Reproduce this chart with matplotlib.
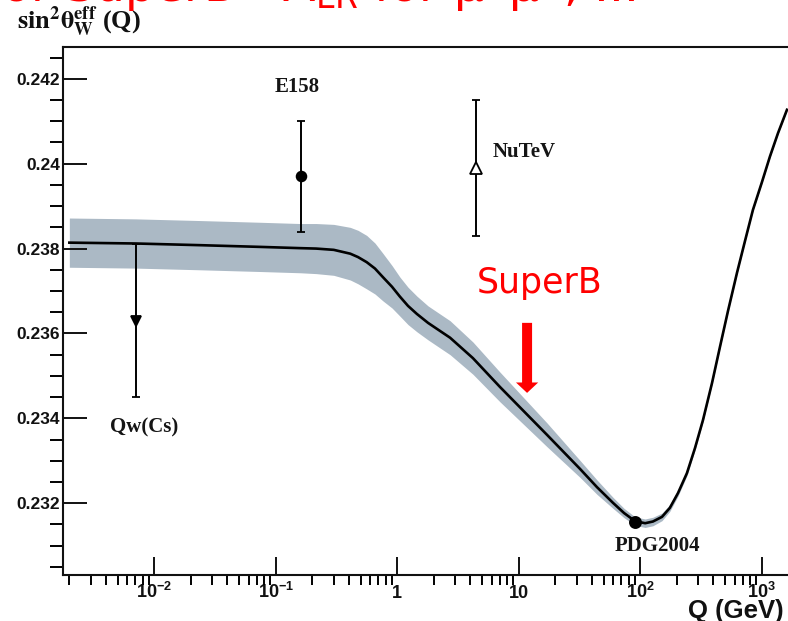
import matplotlib.pyplot as plt
from matplotlib.ticker import LogLocator, MultipleLocator, NullFormatter

plt.rcParams['font.family'] = 'Liberation Sans'
plt.rcParams['mathtext.fontset'] = 'custom'
plt.rcParams['mathtext.rm'] = 'Liberation Sans:bold'
plt.rcParams['mathtext.it'] = 'Liberation Sans:bold'
plt.rcParams['mathtext.bf'] = 'Liberation Sans:bold'

# running weak mixing angle (SM prediction) and its uncertainty band
q_curve = [0.002, 0.007, 0.024, 0.074, 0.16, 0.215, 0.30, 0.41, 0.475,
           0.56, 0.655, 0.76, 0.905, 1.05, 1.225, 1.45, 1.79, 2.246, 2.72,
           4.19, 7.0, 17.1, 31.9, 44.0, 59.6, 73.5, 90.4, 109.6, 127, 150.9,
           175, 204.3, 242, 281.9, 328, 389.1, 453, 526.9, 625, 727.4, 845,
           1003.7, 1167, 1359.4, 1611]
s_curve = [0.23814, 0.23812, 0.23808, 0.23804, 0.23801, 0.23800, 0.23797,
           0.23788, 0.23780, 0.23768, 0.23753, 0.23733, 0.23710, 0.23687,
           0.23665, 0.23646, 0.23625, 0.23606, 0.23590, 0.23542, 0.23474,
           0.23361, 0.23281, 0.23238, 0.23201, 0.23177, 0.23158, 0.23153,
           0.23157, 0.23168, 0.23189, 0.23224, 0.23271, 0.23330, 0.23396,
           0.23483, 0.23569, 0.23653, 0.23743, 0.23818, 0.23891, 0.23957,
           0.24017, 0.24072, 0.24127]
s_err = [0.00058, 0.00058, 0.00058, 0.00058, 0.00058, 0.00059, 0.00060,
         0.00062, 0.00063, 0.00063, 0.00060, 0.00056, 0.00050, 0.00046,
         0.00044, 0.00042, 0.00040, 0.00040, 0.00040, 0.00038, 0.00035,
         0.00028, 0.00020, 0.00017, 0.00013, 0.00011, 0.00010, 0.00010,
         0.00010, 0.00009, 0.00008, 0.00007, 0.00006, 0.00005, 0.00004,
         0.00003, 0.00003, 0.00002, 0.00002, 0.00002, 0.00002, 0.00002,
         0.00002, 0.00002, 0.00002]

# measurements
meas_names = ['Qw(Cs)', 'E158', 'NuTeV', 'PDG2004']
meas_q = [0.00703, 0.161, 4.47, 91.19]
meas_s = [0.2363, 0.2397, 0.2399, 0.23155]
meas_err = [0.0018, 0.0013, 0.0016, 0.0]
meas_marker = ['v', 'o', '^', 'o']

band_color = '#abb9c5'

fig = plt.figure(figsize=(7.88, 6.21), dpi=100)
ax = fig.add_axes([63 / 788, 1 - 575 / 621, 725 / 788, 528 / 621])

lo = [s - e for s, e in zip(s_curve, s_err)]
hi = [s + e for s, e in zip(s_curve, s_err)]
ax.fill_between(q_curve, lo, hi, color=band_color, lw=0, zorder=1)
ax.plot(q_curve, s_curve, color='black', lw=1.9, zorder=2,
        solid_joinstyle='round')

for name, q, s, e, m in zip(meas_names, meas_q, meas_s, meas_err, meas_marker):
    face = 'white' if name == 'NuTeV' else 'black'
    ms = 8 if name in ('NuTeV', 'PDG2004') else 7
    ax.errorbar(q, s, yerr=e if e > 0 else None, fmt=m, color='black',
                mfc=face, mec='black', ms=ms, mew=1.3, elinewidth=1.4,
                capsize=3, capthick=1.4, zorder=4)

# point labels
lab_kw = dict(family='Liberation Serif', weight='bold', fontsize=15,
              va='baseline', color='#151515')
ax.text(0.149, 0.24169, 'E158', ha='center', **lab_kw)
ax.text(6.13, 0.24016, 'NuTeV', ha='left', **lab_kw)
ax.text(0.00432, 0.23366, 'Qw(Cs)', ha='left', **lab_kw)
ax.text(137, 0.23088, 'PDG2004', ha='center', **lab_kw)

# SuperB energy marker
ax.text(14.95, 0.23695, 'SuperB', color='red', fontsize=25,
        family='DejaVu Sans', ha='center', va='baseline')
ax.annotate('', xy=(11.7, 0.2346), xytext=(11.7, 0.23625),
            arrowprops=dict(arrowstyle='simple,head_length=0.75,head_width=1.6,tail_width=0.72',
                            color='red', mutation_scale=10, shrinkA=0, shrinkB=0, lw=0))

ax.set_xscale('log')
ax.set_xlim(0.001773, 1643)
ax.set_ylim(0.23031, 0.242749)

major_x = [1e-2, 1e-1, 1, 10, 100, 1000]
major_x_labels = [r'$10^{-2}$', r'$10^{-1}$', '1', '10', r'$10^{2}$', r'$10^{3}$']
ax.set_xticks(major_x, major_x_labels)
ax.xaxis.set_minor_locator(LogLocator(base=10, subs=range(2, 10), numticks=20))
ax.xaxis.set_minor_formatter(NullFormatter())

major_y = [0.232, 0.234, 0.236, 0.238, 0.240, 0.242]
major_y_labels = ['0.232', '0.234', '0.236', '0.238', '0.24', '0.242']
ax.set_yticks(major_y, major_y_labels)
ax.yaxis.set_minor_locator(MultipleLocator(0.0005))

ax.tick_params(direction='in', top=False, right=False, colors='#111111')
ax.tick_params(axis='x', which='major', length=13, width=1.4, labelsize=13, pad=16.5)
ax.tick_params(axis='x', which='minor', length=7, width=1.4)
ax.tick_params(axis='y', which='major', length=17, width=1.4, labelsize=12.5, pad=2)
ax.tick_params(axis='y', which='minor', length=9.4, width=1.4)
for lab in ax.get_xticklabels():
    lab.set_va('baseline')
    lab.set_fontweight('bold')
for lab in ax.get_yticklabels():
    lab.set_fontweight('bold')

for side in ('left', 'bottom', 'top'):
    ax.spines[side].set_linewidth(1.5)
    ax.spines[side].set_color('#111111')
ax.spines['right'].set_visible(False)

fig.text(688 / 788, 1 - 618 / 621, 'Q (GeV)', fontsize=18.5, weight='bold',
         family='Liberation Sans', va='baseline', color='#111111')
fig.text(17 / 788, 1 - 29 / 621,
         r'$\mathbf{sin^{2}θ_{W}^{eff}}$ (Q)',
         math_fontfamily='stix', family='Liberation Serif', weight='bold',
         fontsize=19, va='baseline', color='#111111')

# slide heading running across the top edge
fig.text(-15 / 788, 1 - 1 / 621,
         r'for SuperB - A$_{\mathrm{LR}}$ for μ⁺μ⁻, ...', color='red',
         fontsize=34, family='DejaVu Sans',
         math_fontfamily='dejavusans', va='baseline')

fig.savefig('out.png', dpi=100)
